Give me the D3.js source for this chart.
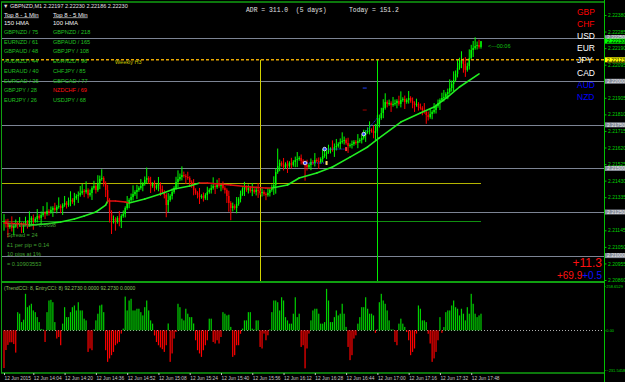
<!DOCTYPE html>
<meta charset="utf-8">
<style>
  body { margin: 0; background: #000; }
  svg { display: block; font-family: "Liberation Sans", Arial, sans-serif; }
  .mono { font-family: "Liberation Mono", "DejaVu Sans Mono", monospace; }
</style>
<script src="https://cdn.jsdelivr.net/npm/d3@7/dist/d3.min.js"></script>
<body>
<div id="chart"></div>
</body>
<script>
// ---- data ----
var symbolTitle = "GBPNZD,M1  2.22197 2.22230 2.22186 2.22230";
var firstOpen = 2.21193;

// M1 closes, one per minute from 13:49
var closes = [
  2.21198,2.21181,2.21164,2.21175,2.21158,2.21170,2.21187,2.21175,2.21181,2.21170,
  2.21181,2.21193,2.21175,2.21204,2.21216,2.21198,2.21210,2.21227,2.21216,2.21233,
  2.21244,2.21239,2.21256,2.21250,2.21262,2.21273,2.21262,2.21279,2.21284,2.21273,
  2.21290,2.21302,2.21290,2.21313,2.21319,2.21307,2.21330,2.21342,2.21348,2.21359,
  2.21371,2.21365,2.21376,2.21348,2.21359,2.21388,2.21399,2.21376,2.21411,2.21439,
  2.21445,2.21416,2.21376,2.21319,2.21250,2.21204,2.21210,2.21193,2.21216,2.21198,
  2.21227,2.21239,2.21273,2.21302,2.21319,2.21336,2.21353,2.21365,2.21376,2.21388,
  2.21399,2.21411,2.21434,2.21445,2.21422,2.21399,2.21411,2.21388,2.21399,2.21411,
  2.21382,2.21365,2.21348,2.21290,2.21319,2.21342,2.21365,2.21388,2.21422,2.21439,
  2.21451,2.21462,2.21457,2.21451,2.21445,2.21422,2.21399,2.21376,2.21359,2.21348,
  2.21336,2.21342,2.21330,2.21348,2.21365,2.21376,2.21388,2.21399,2.21393,2.21405,
  2.21399,2.21405,2.21388,2.21376,2.21342,2.21302,2.21273,2.21284,2.21273,2.21296,
  2.21325,2.21353,2.21382,2.21393,2.21376,2.21388,2.21371,2.21376,2.21365,2.21376,
  2.21371,2.21359,2.21365,2.21353,2.21348,2.21359,2.21376,2.21388,2.21405,2.21479,
  2.21514,2.21531,2.21520,2.21508,2.21525,2.21514,2.21531,2.21520,2.21537,2.21548,
  2.21554,2.21560,2.21543,2.21531,2.21520,2.21508,2.21520,2.21537,2.21531,2.21548,
  2.21543,2.21537,2.21554,2.21571,2.21583,2.21594,2.21606,2.21611,2.21606,2.21623,
  2.21629,2.21640,2.21652,2.21657,2.21663,2.21646,2.21629,2.21634,2.21640,2.21652,
  2.21646,2.21657,2.21663,2.21675,2.21692,2.21709,2.21715,2.21720,2.21715,2.21703,
  2.21715,2.21755,2.21789,2.21818,2.21847,2.21881,2.21870,2.21875,2.21864,2.21870,
  2.21875,2.21887,2.21870,2.21892,2.21898,2.21881,2.21892,2.21904,2.21887,2.21875,
  2.21864,2.21870,2.21852,2.21847,2.21835,2.21824,2.21806,2.21795,2.21812,2.21824,
  2.21835,2.21858,2.21875,2.21892,2.21904,2.21910,2.21927,2.21938,2.21961,2.21984,
  2.22007,2.22042,2.22076,2.22105,2.22122,2.22099,2.22065,2.22087,2.22133,2.22179,
  2.22191,2.22202,2.22208,2.22197,2.22230
];
// wick sizes in pips above / below the body
var wickUp = [
  4,1,3,1,5,1,2,1,4,1, 1,3,1,5,1,2,1,4,1,2, 4,1,5,1,2,1,3,1,5,1, 1,4,1,2,5,1,3,1,2,4,
  4,1,5,1,2,1,3,1,5,2, 5,1,1,3,1,1,2,1,1,4, 1,2,1,4,1,2,5,1,3,1, 4,1,2,6,1,3,1,2,1,4,
  1,2,1,1,4,1,2,1,3,5, 2,5,2,1,3,1,1,4,1,1, 4,1,2,1,3,1,2,5,1,3, 4,1,2,1,1,3,1,2,1,4,
  1,2,1,3,1,2,1,4,1,2, 4,1,2,1,1,3,1,2,5,2, 10,2,1,4,1,2,1,3,1,2, 4,1,2,1,1,3,1,2,1,4,
  1,2,1,4,2,1,3,1,5,2, 4,1,2,5,2,1,3,1,2,1, 1,4,1,2,3,1,2,5,1,3, 4,5,2,3,5,5,1,2,1,4,
  2,1,3,5,1,2,1,4,1,2, 1,3,1,2,1,4,1,2,3,1, 4,1,2,1,3,4,1,2,5,2, 5,2,5,3,5,1,4,2,5,3,
  4,5,2,3,0
];
var wickDn = [
  5,2,6,1,2,4,1,2,1,4, 4,1,2,1,3,5,1,2,1,4, 1,3,1,2,1,4,1,2,1,3, 4,1,2,1,3,1,2,1,4,1,
  1,3,1,2,1,4,1,2,1,3, 1,2,4,2,6,8,2,5,1,3, 4,1,2,1,3,1,2,1,4,1, 1,3,1,2,1,4,1,2,1,3,
  4,1,2,7,4,1,2,1,1,3, 1,2,1,4,1,2,1,3,1,2, 4,1,2,1,3,1,2,1,4,1, 1,3,1,2,4,5,7,2,1,3,
  1,2,1,4,1,2,1,3,1,2, 4,1,2,1,3,1,2,1,4,5, 1,3,1,2,1,4,1,2,1,3, 4,1,2,1,9,2,1,3,1,2,
  1,4,1,2,1,3,1,2,1,4, 2,1,3,1,2,1,4,1,2,1, 1,3,1,2,1,4,1,2,1,3, 4,1,2,1,3,1,2,1,4,1,
  1,3,1,2,1,4,1,2,1,3, 4,1,2,1,3,1,5,2,1,3, 1,2,1,4,1,2,1,3,1,2, 4,1,2,1,3,5,4,1,2,1,
  4,1,2,1,1
];

// 150 HMA, sampled at bar indices
var maBars = [0,10,13,21,29,36,41,47,52,53,57,62,64,72,80,87,95,100,104,116,126,134,137,145,151,160,168,177,186,192,203,213,220,227,233,243];
var maVals = [2.21187,2.21181,2.21175,2.21181,2.21193,2.21210,2.21227,2.21250,2.21290,2.21313,2.21313,2.21307,2.21302,2.21325,2.21353,2.21382,
  2.21399,2.21416,2.21416,2.21405,2.21393,2.21388,2.21388,2.21405,2.21445,2.21474,2.21508,2.21565,2.21623,2.21675,2.21766,2.21818,2.21852,2.21910,2.21967,2.22042];

// TrendCCI / EntryCCI histogram, one per bar
var cci = [
  -220,-115,-85,-70,-70,-80,-130,
  106,97,48,62,213,135,145,155,116,106,77,48, 8,5,
  -68, 106,174,178,164,48, -48,-39,-87,
  39,135,77,77,106,135,145,116,164,116,116,68,58, -126,-106,-116, 5,
  58,97,145,150,106, -116,-184,-164,-145,-126,-87,-77,-68,-19, 10,
  197,116,174,184,116,116,126,126,106,87,135,174,116,58,39,
  -30,-68,-87,-100,-110,-126,-87,40,-184,-135,-48,-10,
  155,135,68,58,126,97,77,77,40, -58,-116,-135,-155,-116,-87,-58, 68,68,
  -68,-77,-58,-77,-39, 106,97,87,91,20, -155,-145,-87,-87,-20,
  10,58,58,106,106,10, 5,58,58, -97,-106,-19,-58,-29, 5,
  106,174,174,164,116,193,174,77,58,39,39,97,193,77,97, -97,-87,-222,-106,-19,
  58,116,126,126,97,39,39,48,242,174,48,48,77,116,87,97,155,97,20,
  -97,-174,-145,-48,-29, 39,77,135,135,193,126,97,97,87, -15,5,
  164,213,174,155,116,58, 5,5, -68,-87, 39,68,39,20, -10,-58,-145,-126,-106,-19,
  145,126,58,58,48, -20,-77,-184,-164,-126,-58, 77, -15,
  19,106,116,116,145,174,135,126,87,126,97,58,135,97,213,155,97,77,87,97
];
var cciMax = 258.6529, cciMin = -231.5458;
var cciHeader = "(TrendCCI: 8, EntryCCI: 8) 92.2730 0.0000 92.2730 0.0000";

// price axis
var priceTicks = [2.20860,2.20955,2.21050,2.21145,2.21240,2.21335,2.21430,2.21525,2.21620,2.21715,2.21810,2.21905,2.22000,2.22095,2.22190,2.22285,2.22380];
var roundLevels = [2.22250,2.22000,2.21750,2.21500,2.21250,2.21000];
var weeklyH3 = 2.22123;
var pivotLevel = 2.21416;
var dayOpenLevel = 2.21198;
var sessionBars = [131, 191];

// trades
var tradeOpenBar = [154, 164, 184];
var tradeOpenPrice = [2.21531, 2.21611, 2.21697];
var tradeCloseBar = [165, 175, 191];
var tradeClosePrice = [2.21531, 2.21611, 2.21789];
var tradeResult = ["be", "loss", "open"];
var orderTP = 2.21961, orderSL = 2.21835, orderBar = 184;

// text panels
var top1m = ["GBPNZD / 75","EURNZD / 61","GBPAUD / 48","AUDNZD / 44","EURAUD / 40","EURCAD / 35","GBPJPY / 28","EURJPY / 26"];
var top5m = ["GBPNZD / 218","GBPAUD / 165","GBPJPY / 108","EURNZD / 96","CHFJPY / 85","GBPCAD / 77","NZDCHF / 69","USDJPY / 68"];
var top5mNeg = [false,false,false,false,false,false,true,false];
var currencies = ["GBP","CHF","USD","EUR","JPY","CAD","AUD","NZD"];
var currencyGroup = ["strong","strong","flat","flat","flat","flat","weak","weak"];
var infoLines = ["Tick Value = 0.0698","Spread = 24","\u00a31 per pip = 0.14","10 pips at 1%","= 0.10903553"];
var adrText = "ADR = 311.0  (5 days)", todayText = "Today = 151.2";
var plBig = "+11.3", plA = "+69.9", plB = "+0.5";
var timer = "<---00:06";

// ---- layout ----
var width = 625, height = 382;
var frame = {left: 1, right: 604, top: 2, bottom: 282, indBottom: 373};
var groupColor = {strong: "#ff0000", flat: "#ffffff", weak: "#0000ff"};
var bull = "#00ff00", bear = "#ff0000";

var svg = d3.select("#chart").append("svg")
    .attr("width", width)
    .attr("height", height);
svg.append("rect").attr("width", width).attr("height", height).attr("fill", "#000");

var t0 = new Date(2015, 5, 12, 13, 49);
var tAt = function(i) { return d3.timeMinute.offset(t0, i); };

var x = d3.scaleTime()
    .domain([t0, tAt(244)])
    .range([4, 481]);
var y = d3.scaleLinear()
    .domain([2.20860, 2.22380])
    .range([280, 15]);
var yc = d3.scaleLinear()
    .domain([cciMin, cciMax])
    .range([370, 286]);
var bx = function(i) { return x(tAt(i)); };

// bars
var bars = closes.map(function(c, i) {
  var o = i === 0 ? firstOpen : closes[i - 1];
  return {i: i, o: o, c: c,
    h: Math.max(o, c) + wickUp[i] * 0.0001,
    l: Math.min(o, c) - wickDn[i] * 0.0001};
});

// horizontal round-number lines
svg.append("g").selectAll("line")
  .data(roundLevels).enter().append("line")
    .attr("x1", frame.left).attr("x2", frame.right)
    .attr("y1", function(d) { return Math.round(y(d)) + 0.5; })
    .attr("y2", function(d) { return Math.round(y(d)) + 0.5; })
    .attr("stroke", "#7c8494").attr("stroke-width", 1);

// pivot and day open lines
svg.append("line")
    .attr("x1", frame.left).attr("x2", bx(244))
    .attr("y1", Math.round(y(pivotLevel)) + 0.5).attr("y2", Math.round(y(pivotLevel)) + 0.5)
    .attr("stroke", "#b4b400");
svg.append("line")
    .attr("x1", frame.left).attr("x2", bx(244))
    .attr("y1", Math.round(y(dayOpenLevel)) + 0.5).attr("y2", Math.round(y(dayOpenLevel)) + 0.5)
    .attr("stroke", "#109010");

// session verticals
svg.append("g").selectAll("line")
  .data(sessionBars).enter().append("line")
    .attr("x1", function(d) { return Math.round(bx(d)) + 0.5; })
    .attr("x2", function(d) { return Math.round(bx(d)) + 0.5; })
    .attr("y1", y(weeklyH3)).attr("y2", frame.bottom + 1)
    .attr("stroke", function(d, i) { return i === 0 ? "#d2d200" : "#00ee00"; });

// candles: thin wick plus a slightly wider body
var cg = svg.append("g");
cg.selectAll(".wick")
  .data(bars).enter().append("rect")
    .attr("class", "wick")
    .attr("x", function(d) { return bx(d.i) - 0.5; })
    .attr("width", 1)
    .attr("y", function(d) { return y(d.h); })
    .attr("height", function(d) { return Math.max(1, y(d.l) - y(d.h)); })
    .attr("fill", function(d) { return d.c >= d.o ? bull : bear; });
cg.selectAll(".body")
  .data(bars).enter().append("rect")
    .attr("class", "body")
    .attr("x", function(d) { return bx(d.i) - 0.7; })
    .attr("width", 1.4)
    .attr("y", function(d) { return y(Math.max(d.o, d.c)); })
    .attr("height", function(d) { return Math.max(1, Math.abs(y(d.o) - y(d.c))); })
    .attr("fill", function(d) { return d.c >= d.o ? bull : bear; });

// HMA line, coloured by slope
var maPts = maBars.map(function(b, i) { return {b: b, v: maVals[i]}; });
svg.append("g").selectAll("line")
  .data(maPts.slice(1)).enter().append("line")
    .attr("x1", function(d, i) { return bx(maPts[i].b); })
    .attr("y1", function(d, i) { return y(maPts[i].v); })
    .attr("x2", function(d) { return bx(d.b); })
    .attr("y2", function(d) { return y(d.v); })
    .attr("stroke", function(d, i) { return d.v > maPts[i].v ? "#22ee22" : "#e01010"; })
    .attr("stroke-width", 1.6)
    .attr("stroke-linecap", "round");

// trades
var tg = svg.append("g");
tradeOpenBar.forEach(function(b, k) {
  tg.append("line")
    .attr("x1", bx(b)).attr("y1", y(tradeOpenPrice[k]))
    .attr("x2", bx(tradeCloseBar[k])).attr("y2", y(tradeClosePrice[k]))
    .attr("stroke", "#2040ff").attr("stroke-dasharray", "1,1");
  tg.append("circle")
    .attr("cx", bx(b)).attr("cy", y(tradeOpenPrice[k])).attr("r", 1.8)
    .attr("fill", "#3050ff").attr("stroke", "#fff").attr("stroke-width", 0.8);
  if (tradeResult[k] !== "open") {
    tg.append("rect")
      .attr("x", bx(tradeCloseBar[k]) - 1).attr("y", y(tradeClosePrice[k]) - 2)
      .attr("width", 2).attr("height", 4)
      .attr("fill", tradeResult[k] === "be" ? "#ffe060" : "#ff3030");
  }
});
tg.append("line").attr("x1", bx(orderBar) - 1).attr("x2", bx(orderBar) + 3)
  .attr("y1", y(orderTP)).attr("y2", y(orderTP)).attr("stroke", "#2040ff");
tg.append("line").attr("x1", bx(orderBar) - 1).attr("x2", bx(orderBar) + 3)
  .attr("y1", y(orderSL)).attr("y2", y(orderSL)).attr("stroke", "#a00000");

// weekly H3 dashed line
svg.append("line")
    .attr("x1", frame.left).attr("x2", frame.right)
    .attr("y1", y(weeklyH3)).attr("y2", y(weeklyH3))
    .attr("stroke", "#e8a800").attr("stroke-width", 1.6)
    .attr("stroke-dasharray", "3,2");
svg.append("text").attr("x", 115).attr("y", y(weeklyH3) + 4.5)
    .attr("font-size", 5.5).attr("fill", "#c8c800").text("Weekly H3");

// ---- CCI panel ----
svg.append("line")
    .attr("x1", frame.left).attr("x2", frame.right)
    .attr("y1", Math.round(yc(0)) + 0.5).attr("y2", Math.round(yc(0)) + 0.5)
    .attr("stroke", "#b0b0b0").attr("stroke-dasharray", "1,2");
svg.append("g").selectAll("rect")
  .data(cci.slice(0, bars.length)).enter().append("rect")
    .attr("x", function(d, i) { return bx(i) - 0.6; })
    .attr("width", 1.2)
    .attr("y", function(d) { return Math.min(yc(0), yc(d)); })
    .attr("height", function(d) { return Math.abs(yc(d) - yc(0)); })
    .attr("fill", function(d) { return d >= 0 ? "#00d000" : "#ff0000"; });
svg.append("text").attr("x", 4).attr("y", 290).attr("font-size", 5)
    .attr("fill", "#8cc060").text(cciHeader);

// frame
var fg = svg.append("g").attr("fill", "none");
fg.append("line").attr("x1", frame.left).attr("x2", frame.right).attr("y1", frame.top).attr("y2", frame.top)
    .attr("stroke", "#10a010").attr("stroke-width", 1.5);
fg.append("line").attr("x1", frame.left).attr("x2", frame.right).attr("y1", frame.bottom).attr("y2", frame.bottom)
    .attr("stroke", "#10a010").attr("stroke-width", 2);
fg.append("line").attr("x1", frame.left).attr("x2", frame.right).attr("y1", frame.indBottom).attr("y2", frame.indBottom)
    .attr("stroke", "#10a010").attr("stroke-width", 1.5);
fg.append("line").attr("x1", frame.left + 0.5).attr("x2", frame.left + 0.5).attr("y1", frame.top).attr("y2", frame.indBottom)
    .attr("stroke", "#10a010");
fg.append("line").attr("x1", frame.right + 0.5).attr("x2", frame.right + 0.5).attr("y1", 0).attr("y2", height)
    .attr("stroke", "#00c000");

// price axis (labels hidden where a boxed level sits on top)
var boxed = roundLevels.concat([weeklyH3]);
var shownTicks = priceTicks.filter(function(t) {
  return !boxed.some(function(b) { return Math.abs(y(b) - y(t)) < 3; });
});
var yAxis = svg.append("g")
    .attr("transform", "translate(" + (frame.right + 0.5) + ",0)")
    .call(d3.axisRight(y).tickValues(shownTicks).tickSize(2).tickPadding(1.5).tickFormat(d3.format(".5f")));
yAxis.select(".domain").remove();
yAxis.selectAll("line").attr("stroke", "#00c000");
yAxis.selectAll("text").attr("fill", "#00d000").attr("font-size", 5).attr("font-family", "Liberation Sans, Arial");

// boxed levels on the axis
function axisBox(v, fill, ink) {
  var g = svg.append("g").attr("transform", "translate(" + (frame.right + 1) + "," + y(v) + ")");
  g.append("rect").attr("x", 0).attr("y", -2.5).attr("width", 20).attr("height", 5).attr("fill", fill);
  g.append("text").attr("x", 2).attr("y", 1.8).attr("font-size", 5).attr("fill", ink).text(d3.format(".5f")(v));
}
roundLevels.forEach(function(v) { axisBox(v, "#8a909c", "#e8e8e8"); });
axisBox(weeklyH3, "#ffff00", "#000");
axisBox(closes[closes.length - 1], "#00ff00", "#000");

// CCI axis labels
var cciAxis = svg.append("g")
    .attr("transform", "translate(" + (frame.right + 0.5) + ",0)")
    .call(d3.axisRight(yc).tickValues([cciMax, 0, cciMin]).tickSize(1).tickPadding(0.8)
      .tickFormat(function(d) { return d === 0 ? "0.00" : d3.format(".4f")(d); }));
cciAxis.select(".domain").remove();
cciAxis.selectAll("line").attr("stroke", "#00c000");
cciAxis.selectAll("text").attr("fill", "#00d000").attr("font-size", 4).attr("font-family", "Liberation Sans, Arial");

// time axis
var timeTicks = [t0].concat(d3.range(15, 245, 16).map(tAt));
var fmt = d3.timeFormat("%d %b %H:%M");
var xAxis = svg.append("g")
    .attr("transform", "translate(0," + frame.indBottom + ")")
    .call(d3.axisBottom(x).tickValues(timeTicks).tickSize(2).tickPadding(1)
      .tickFormat(function(d, i) { return i === 0 ? "12 Jun 2015" : fmt(d); }));
xAxis.select(".domain").remove();
xAxis.selectAll("line").attr("stroke", "#c0c0c0");
xAxis.selectAll("text").attr("fill", "#c8c8c8").attr("font-size", 4.8)
    .attr("font-family", "Liberation Sans, Arial")
    .attr("text-anchor", "start").attr("dy", "0.9em");

// ---- texts ----
svg.append("text").attr("x", 3).attr("y", 7.5).attr("font-size", 5.5).attr("fill", "#e0e0e0")
    .text("\u25bc " + symbolTitle);

var hdr = svg.append("g").attr("font-size", 6).attr("fill", "#f0f0f0");
[["Top 8 - 1 Min", 4], ["Top 8 - 5 Min", 53]].forEach(function(h) {
  hdr.append("text").attr("x", h[1]).attr("y", 16.5).attr("text-decoration", "underline").text(h[0]);
});
hdr.append("text").attr("x", 4).attr("y", 24.5).text("150 HMA");
hdr.append("text").attr("x", 53).attr("y", 24.5).text("100 HMA");

var lg = svg.append("g").attr("font-size", 5.6);
top1m.forEach(function(s, k) {
  lg.append("text").attr("x", 4).attr("y", 34 + k * 9.7).attr("fill", "#20c020").text(s);
});
top5m.forEach(function(s, k) {
  lg.append("text").attr("x", 53).attr("y", 34 + k * 9.7)
    .attr("fill", top5mNeg[k] ? "#ff1010" : "#20c020").text(s);
});

var ig = svg.append("g").attr("font-size", 5.6).attr("fill", "#40a030");
infoLines.forEach(function(s, k) {
  ig.append("text").attr("x", 7).attr("y", 227 + k * 9.8).text(s);
});

svg.append("text").attr("class", "mono").attr("x", 246).attr("y", 12).attr("font-size", 6.4)
    .attr("fill", "#e0e0e0").style("white-space", "pre").text(adrText);
svg.append("text").attr("class", "mono").attr("x", 349).attr("y", 12).attr("font-size", 6.4)
    .attr("fill", "#e0e0e0").text(todayText);

svg.append("text").attr("x", 488).attr("y", 48).attr("font-size", 5.5).attr("fill", "#10c010").text(timer);

var cur = svg.append("g").attr("font-size", 8.5);
currencies.forEach(function(c, k) {
  cur.append("text").attr("x", 577).attr("y", 14.5 + k * 12.2)
    .attr("fill", groupColor[currencyGroup[k]]).text(c);
});

svg.append("text").attr("x", 602).attr("y", 267).attr("text-anchor", "end")
    .attr("font-size", 12).attr("fill", "#ff1010").text(plBig);
var pl = svg.append("text").attr("x", 602).attr("y", 278.5).attr("text-anchor", "end").attr("font-size", 10);
pl.append("tspan").attr("fill", "#ff1010").text(plA);
pl.append("tspan").attr("fill", "#1010ff").text(plB);
</script>
